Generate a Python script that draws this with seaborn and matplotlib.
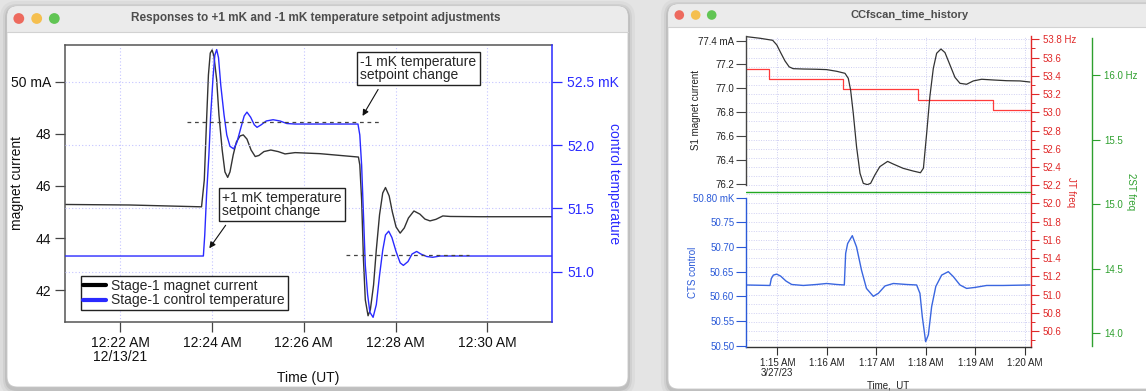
import matplotlib
matplotlib.use("Agg")
import matplotlib.pyplot as plt
import seaborn as sns
from matplotlib.patches import FancyBboxPatch, Circle, Rectangle
from matplotlib.lines import Line2D
from matplotlib.ticker import MultipleLocator

# ---- left window: stage-1 response, time in minutes after 12:00 AM
cur_t = [20.80, 22.21, 23.77, 23.83, 23.88, 23.92, 23.96, 24.00, 24.04, 24.10,
         24.15, 24.22, 24.28, 24.34, 24.39, 24.46, 24.53, 24.61, 24.68, 24.76,
         24.85, 24.94, 25.02, 25.13, 25.28, 25.44, 25.59, 25.81, 26.35, 27.19,
         27.22, 27.26, 27.30, 27.34, 27.40, 27.45, 27.52, 27.58, 27.65, 27.72,
         27.78, 27.86, 27.93, 28.01, 28.10, 28.19, 28.28, 28.40, 28.53, 28.64,
         28.75, 28.88, 29.03, 29.19, 29.84, 31.41]
cur_ma = [45.29, 45.27, 45.20, 46.23, 48.53, 50.26, 51.10, 51.22, 50.99, 50.07,
          48.72, 47.38, 46.54, 46.33, 46.54, 47.19, 47.69, 47.92, 47.96, 47.80,
          47.38, 47.13, 47.17, 47.32, 47.38, 47.32, 47.23, 47.28, 47.24, 47.11,
          46.81, 45.46, 43.16, 41.63, 41.02, 41.25, 42.20, 43.55, 44.89, 45.73,
          45.94, 45.62, 45.00, 44.43, 44.19, 44.39, 44.77, 45.04, 44.92, 44.73,
          44.66, 44.72, 44.85, 44.83, 44.82, 44.82]
temp_t = [20.80, 23.81, 23.84, 23.88, 23.93, 23.97, 24.02, 24.06, 24.10, 24.14,
          24.19, 24.26, 24.32, 24.39, 24.47, 24.54, 24.63, 24.70, 24.76, 24.84,
          24.92, 24.98, 25.07, 25.18, 25.33, 25.48, 25.63, 25.81, 27.18, 27.22,
          27.26, 27.30, 27.34, 27.39, 27.44, 27.51, 27.58, 27.65, 27.72, 27.78,
          27.85, 27.92, 28.01, 28.10, 28.17, 28.27, 28.36, 28.46, 28.55, 28.68,
          28.81, 28.97, 31.41]
temp_mk = [51.124, 51.124, 51.29, 51.61, 51.92, 52.24, 52.53, 52.71, 52.754, 52.69,
           52.47, 52.24, 52.08, 51.99, 51.97, 52.02, 52.14, 52.23, 52.26, 52.22,
           52.16, 52.14, 52.16, 52.19, 52.20, 52.19, 52.17, 52.166, 52.166, 52.08,
           51.84, 51.45, 51.05, 50.82, 50.68, 50.64, 50.74, 50.97, 51.17, 51.29,
           51.32, 51.27, 51.16, 51.07, 51.05, 51.08, 51.14, 51.16, 51.14, 51.12,
           51.114, 51.124, 51.124]
sp_up_t = [23.45, 27.67]
sp_up_mk = [52.18, 52.18]
sp_dn_t = [26.92, 29.60]
sp_dn_mk = [51.135, 51.135]

left_xticks = [22, 24, 26, 28, 30]
left_xlabels = ["12:22 AM\n12/13/21", "12:24 AM", "12:26 AM", "12:28 AM", "12:30 AM"]
cur_ticks = [42, 44, 46, 48, 50]
cur_labels = ["42", "44", "46", "48", "50 mA"]
temp_ticks = [51.0, 51.5, 52.0, 52.5]
temp_labels = ["51.0", "51.5", "52.0", "52.5 mK"]

# ---- right window: CCfscan time history, time in minutes after 1:00 AM
s1_t = [14.367, 14.65, 14.906, 14.99, 15.067, 15.155, 15.24, 15.32, 15.525, 15.79,
        15.996, 16.198, 16.366, 16.433, 16.48, 16.534, 16.60, 16.67, 16.736, 16.817,
        16.884, 16.97, 17.07, 17.227, 17.34, 17.54, 17.745, 17.89, 17.95, 18.015,
        18.08, 18.15, 18.217, 18.304, 18.385, 18.486, 18.587, 18.688, 18.822, 18.957,
        19.125, 19.36, 19.63, 19.90, 20.10]
s1_ma = [77.434, 77.42, 77.403, 77.364, 77.30, 77.23, 77.18, 77.165, 77.162, 77.16,
         77.157, 77.143, 77.126, 77.084, 76.986, 76.79, 76.51, 76.287, 76.203, 76.192,
         76.203, 76.273, 76.343, 76.387, 76.365, 76.329, 76.306, 76.292, 76.33, 76.62,
         76.93, 77.168, 77.294, 77.33, 77.30, 77.196, 77.092, 77.042, 77.034, 77.062,
         77.076, 77.07, 77.064, 77.062, 77.053]
cts_t = [14.367, 14.852, 14.879, 14.92, 14.987, 15.067, 15.175, 15.29, 15.525, 15.794,
         15.996, 16.198, 16.353, 16.38, 16.42, 16.514, 16.60, 16.70, 16.80, 16.938,
         17.04, 17.174, 17.342, 17.61, 17.813, 17.88, 17.927, 17.995, 18.05, 18.116,
         18.20, 18.318, 18.452, 18.553, 18.688, 18.822, 18.99, 19.226, 19.563, 20.10]
cts_mk = [50.623, 50.622, 50.636, 50.643, 50.645, 50.641, 50.631, 50.624, 50.622, 50.624,
          50.626, 50.624, 50.623, 50.687, 50.707, 50.723, 50.70, 50.653, 50.616, 50.60,
          50.606, 50.621, 50.626, 50.624, 50.623, 50.606, 50.559, 50.508, 50.522, 50.579,
          50.62, 50.643, 50.65, 50.64, 50.623, 50.616, 50.618, 50.622, 50.622, 50.623]
jt_t = [14.367, 14.832, 16.326, 17.847, 19.347, 20.10]
jt_hz = [53.475, 53.361, 53.252, 53.138, 53.025, 53.025]
st_t = [14.367, 20.10]
st_hz = [15.093, 15.093]

right_xticks = [15, 16, 17, 18, 19, 20]
right_xlabels = ["1:15 AM\n3/27/23", "1:16 AM", "1:17 AM", "1:18 AM", "1:19 AM", "1:20 AM"]
s1_ticks = [76.2, 76.4, 76.6, 76.8, 77.0, 77.2, 77.4]
s1_labels = ["76.2", "76.4", "76.6", "76.8", "77.0", "77.2", "77.4 mA"]
cts_ticks = [50.50, 50.55, 50.60, 50.65, 50.70, 50.75, 50.80]
cts_labels = ["50.50", "50.55", "50.60", "50.65", "50.70", "50.75", "50.80 mK"]
jt_ticks = [50.6, 50.8, 51.0, 51.2, 51.4, 51.6, 51.8, 52.0, 52.2, 52.4, 52.6,
            52.8, 53.0, 53.2, 53.4, 53.6, 53.8]
jt_labels = ["50.6", "50.8", "51.0", "51.2", "51.4", "51.6", "51.8", "52.0", "52.2",
             "52.4", "52.6", "52.8", "53.0", "53.2", "53.4", "53.6", "53.8 Hz"]
st_ticks = [14.0, 14.5, 15.0, 15.5, 16.0]
st_labels = ["14.0", "14.5", "15.0", "15.5", "16.0 Hz"]

sns.set_style("white")
plt.rcParams["font.family"] = ["Liberation Sans", "DejaVu Sans"]

W, H = 1146, 391
fig = plt.figure(figsize=(W / 100, H / 100), dpi=100, facecolor="#e4e4e4")


def px_rect(x0, y0, x1, y1):
    return [x0 / W, 1 - y1 / H, (x1 - x0) / W, (y1 - y0) / H]


def rounded(x0, y0, x1, y1, r, fc, ec="none", lw=0.0, alpha=1.0, z=-10):
    p = FancyBboxPatch((x0 / 100, (H - y1) / 100), (x1 - x0) / 100, (y1 - y0) / 100,
                       boxstyle=f"round,pad=0,rounding_size={r / 100}",
                       transform=fig.dpi_scale_trans, fc=fc, ec=ec, lw=lw,
                       alpha=alpha, zorder=z)
    fig.add_artist(p)


def window(x0, y0, x1, y1, bar, title, tx, ty, dots, dy, dr, tsize):
    for k, a in [(7, 0.03), (4, 0.05), (2, 0.08)]:
        rounded(x0 - k, y0 - k + 2, x1 + k, y1 + k + 2, 10 + k, "black", alpha=a, z=-13)
    rounded(x0, y0, x1, y1, 10, "white", ec="#c8c8c8", lw=0.6, z=-12)
    rounded(x0 + 0.4, y0 + 0.4, x1 - 0.4, bar + 12, 10, "#ebebeb", z=-11)
    fig.add_artist(Rectangle(((x0 + 0.6) / 100, (H - bar - 12) / 100), (x1 - x0 - 1.2) / 100,
                             12 / 100, transform=fig.dpi_scale_trans, fc="white",
                             ec="none", zorder=-10))
    fig.add_artist(Line2D([x0 / W, x1 / W], [1 - bar / H, 1 - bar / H],
                          transform=fig.transFigure, color="#d2d2d2", lw=0.8, zorder=-9))
    for x, c in zip(dots, ["#ed6a5e", "#f5bf4f", "#61c554"]):
        fig.add_artist(Circle((x / 100, (H - dy) / 100), dr / 100,
                              transform=fig.dpi_scale_trans, fc=c, ec="none", zorder=-9))
    fig.text(tx / W, 1 - ty / H, title, ha="center", va="center", fontsize=tsize,
             fontweight="bold", color="#4d4d4d")


window(7, 6, 628, 387, 31.7, "Responses to +1 mK and -1 mK temperature setpoint adjustments",
       316, 18.5, [18.8, 36.7, 54.3], 18.5, 5.4, 8.5)
window(668, 4, 1180, 389, 26.7, "CCfscan_time_history", 910, 15, [679.3, 695.7, 711.7], 15, 4.8, 8)

# ================= left chart =================
grid_kw = dict(color="#c4c4ff", linestyle=(0, (1, 2)), linewidth=0.8)
blue_l = "#2a2aff"

ax1 = fig.add_axes(px_rect(65.3, 45, 552, 322))
ax1.set_facecolor("white")
ax2 = ax1.twinx()

sns.lineplot(x=cur_t, y=cur_ma, ax=ax1, color="#333333", linewidth=1.0,
             errorbar=None, legend=False)
sns.lineplot(x=temp_t, y=temp_mk, ax=ax2, color=blue_l, linewidth=1.0,
             errorbar=None, legend=False)
sns.lineplot(x=sp_up_t, y=sp_up_mk, ax=ax2, color="#444444", linewidth=0.9,
             linestyle=(0, (3, 3)), errorbar=None, legend=False)
sns.lineplot(x=sp_dn_t, y=sp_dn_mk, ax=ax2, color="#444444", linewidth=0.9,
             linestyle=(0, (3, 3)), errorbar=None, legend=False)

ax1.set_xlim(20.80, 31.41)
ax1.set_ylim(40.78, 51.41)
ax2.set_ylim(50.603, 52.79)

ax1.set_xticks(left_xticks)
ax1.set_xticklabels(left_xlabels)
ax1.set_yticks(cur_ticks)
ax1.set_yticklabels(cur_labels)
ax2.set_yticks(temp_ticks)
ax2.set_yticklabels(temp_labels)
for lab in ax1.get_xticklabels():
    lab.set_linespacing(1.0)

ax1.grid(axis="x", **grid_kw)
ax2.grid(axis="y", **grid_kw)
ax1.grid(axis="y", visible=False)

for s in ["left", "top", "bottom"]:
    ax1.spines[s].set_color("#555555")
    ax1.spines[s].set_linewidth(1.1)
ax1.spines["right"].set_visible(False)
for s in ["left", "top", "bottom"]:
    ax2.spines[s].set_visible(False)
ax2.spines["right"].set_color(blue_l)
ax2.spines["right"].set_linewidth(1.1)

ax1.tick_params(axis="both", direction="out", length=7, width=0.9, color="#444444",
                labelsize=10, pad=3, labelcolor="#111111", left=True, bottom=True)
ax2.tick_params(axis="y", direction="out", length=7, width=0.9, colors=blue_l,
                labelsize=10, pad=4, right=True)

ax1.set_ylabel("magnet current", fontsize=10, va="center", color="#111111")
ax1.yaxis.set_label_coords((17 - 65.3) / 486.7, 0.5)
ax2.set_ylabel("control temperature", fontsize=10, rotation=270, va="center", color=blue_l)
ax2.yaxis.set_label_coords((614 - 65.3) / 486.7, 0.5)
ax1.set_xlabel("Time (UT)", fontsize=10, va="center", color="#111111")
ax1.xaxis.set_label_coords(0.5, (322 - 377.7) / 277)

box_kw = dict(boxstyle="square,pad=0.25", fc="white", ec="#222222", lw=1.0)
ax2.annotate("-1 mK temperature\nsetpoint change", xy=(27.28, 52.23), xycoords="data",
             xytext=(360.5 / W, 1 - 55 / H), textcoords="figure fraction",
             ha="left", va="top", fontsize=10, linespacing=0.9, bbox=box_kw,
             arrowprops=dict(arrowstyle="-|>", color="#111111", lw=0.8, relpos=(0.19, 0.0),
                             shrinkA=3, shrinkB=0, mutation_scale=9))
ax2.annotate("+1 mK temperature\nsetpoint change", xy=(23.94, 51.185), xycoords="data",
             xytext=(222.5 / W, 1 - 191 / H), textcoords="figure fraction",
             ha="left", va="top", fontsize=10, linespacing=0.9, bbox=box_kw,
             arrowprops=dict(arrowstyle="-|>", color="#111111", lw=0.8, relpos=(0.07, 0.0),
                             shrinkA=3, shrinkB=0, mutation_scale=9))

handles = [Line2D([0], [0], color="black", lw=3), Line2D([0], [0], color=blue_l, lw=3)]
leg = ax2.legend(handles, ["Stage-1 magnet current", "Stage-1 control temperature"],
                 loc="upper left", bbox_to_anchor=(80.7 / W, 1 - 276 / H),
                 bbox_transform=fig.transFigure, frameon=True, fancybox=False,
                 edgecolor="#222222", framealpha=1, fontsize=10, handlelength=1.6,
                 handletextpad=0.4, borderpad=0.2, labelspacing=0.05, borderaxespad=0)
leg.get_frame().set_linewidth(1.0)

# ================= right chart =================
red = "#e02828"
green = "#2ea02e"
blue_r = "#2b5ad8"
gkw = dict(color="#cfcff2", linestyle=(0, (1, 1.5)), linewidth=0.7)

host = fig.add_axes(px_rect(746, 36, 1031, 347.3))
host.set_facecolor("white")
ax_g = fig.add_axes(px_rect(746, 36, 1031, 347.3), sharex=host)
ax_top = fig.add_axes(px_rect(746, 36, 1031, 185), sharex=host)
ax_bot = fig.add_axes(px_rect(746, 197.7, 1031, 347.3), sharex=host)
for a in [ax_g, ax_top, ax_bot]:
    a.patch.set_visible(False)

sns.lineplot(x=jt_t, y=jt_hz, ax=host, color="#ff3b3b", linewidth=0.9,
             drawstyle="steps-post", errorbar=None, legend=False)
sns.lineplot(x=st_t, y=st_hz, ax=ax_g, color="#22a822", linewidth=1.0,
             errorbar=None, legend=False)
sns.lineplot(x=s1_t, y=s1_ma, ax=ax_top, color="#333333", linewidth=0.9,
             errorbar=None, legend=False)
sns.lineplot(x=cts_t, y=cts_mk, ax=ax_bot, color="#3a66e0", linewidth=1.0,
             errorbar=None, legend=False)

host.set_xlim(14.368, 20.122)
host.set_ylim(50.421, 53.837)
ax_g.set_ylim(13.889, 16.305)
ax_top.set_ylim(76.189, 77.439)
ax_bot.set_ylim(50.4966, 50.80)

host.yaxis.tick_right()
host.set_yticks(jt_ticks)
host.set_yticklabels(jt_labels)
host.yaxis.set_minor_locator(MultipleLocator(0.1))
host.set_xticks(right_xticks)
host.set_xticklabels(right_xlabels)
for lab in host.get_xticklabels():
    lab.set_linespacing(0.9)
host.grid(axis="y", which="both", **gkw)
host.grid(axis="x", which="major", **gkw)

for s in ["left", "top"]:
    host.spines[s].set_visible(False)
host.spines["bottom"].set_color("#333333")
host.spines["bottom"].set_linewidth(1.0)
host.spines["right"].set_color(red)
host.spines["right"].set_linewidth(1.0)
host.tick_params(axis="x", direction="out", length=6, width=0.8, color="#333333",
                 labelsize=7, pad=2, labelcolor="#222222", bottom=True)
host.tick_params(axis="y", which="major", direction="out", length=5.5, width=0.8,
                 colors=red, labelsize=7, pad=3, right=True, left=False)
host.tick_params(axis="y", which="minor", direction="out", length=3, width=0.7,
                 color=red, right=True, left=False)

ax_g.yaxis.tick_right()
ax_g.set_yticks(st_ticks)
ax_g.set_yticklabels(st_labels)
for s in ["left", "top", "bottom"]:
    ax_g.spines[s].set_visible(False)
ax_g.spines["right"].set_position(("axes", (1091.7 - 746) / 285))
ax_g.spines["right"].set_color(green)
ax_g.spines["right"].set_linewidth(1.0)
ax_g.spines["right"].set_bounds(13.9, 16.29)
ax_g.tick_params(axis="y", direction="out", length=6, width=0.8, colors=green,
                 labelsize=7, pad=3, right=True, left=False)
ax_g.tick_params(axis="x", bottom=False, labelbottom=False)

ax_top.set_yticks(s1_ticks)
ax_top.set_yticklabels(s1_labels)
for s in ["right", "top", "bottom"]:
    ax_top.spines[s].set_visible(False)
ax_top.spines["left"].set_color("#444444")
ax_top.spines["left"].set_linewidth(1.0)
ax_top.tick_params(axis="y", direction="out", length=7, width=0.8, color="#444444",
                   labelsize=7, pad=1.5, labelcolor="#222222", left=True)
ax_top.tick_params(axis="x", bottom=False, labelbottom=False)

ax_bot.set_yticks(cts_ticks)
ax_bot.set_yticklabels(cts_labels)
for s in ["right", "top", "bottom"]:
    ax_bot.spines[s].set_visible(False)
ax_bot.spines["left"].set_color(blue_r)
ax_bot.spines["left"].set_linewidth(1.0)
ax_bot.tick_params(axis="y", direction="out", length=7, width=0.8, colors=blue_r,
                   labelsize=7, pad=1.5, left=True)
ax_bot.tick_params(axis="x", bottom=False, labelbottom=False)

host.set_xlim(14.368, 20.122)

ax_top.set_ylabel("S1 magnet current", fontsize=7, va="center", color="#222222")
ax_top.yaxis.set_label_coords((696 - 746) / 285, 0.5)
ax_bot.set_ylabel("CTS control", fontsize=7, va="center", color=blue_r)
ax_bot.yaxis.set_label_coords((693 - 746) / 285, 0.5)
host.set_ylabel("JT freq", fontsize=7, rotation=270, va="center", color=red)
host.yaxis.set_label_position("right")
host.yaxis.set_label_coords((1076 - 746) / 285, 0.5)
ax_g.set_ylabel("2ST freq", fontsize=7, rotation=270, va="center", color=green)
ax_g.yaxis.set_label_position("right")
ax_g.yaxis.set_label_coords((1136 - 746) / 285, 0.5)
host.set_xlabel("Time,  UT", fontsize=7, va="center", color="#222222")
host.xaxis.set_label_coords(0.5, (347.3 - 385.5) / 311.3)

fig.savefig("out.png", dpi=100, facecolor=fig.get_facecolor())
